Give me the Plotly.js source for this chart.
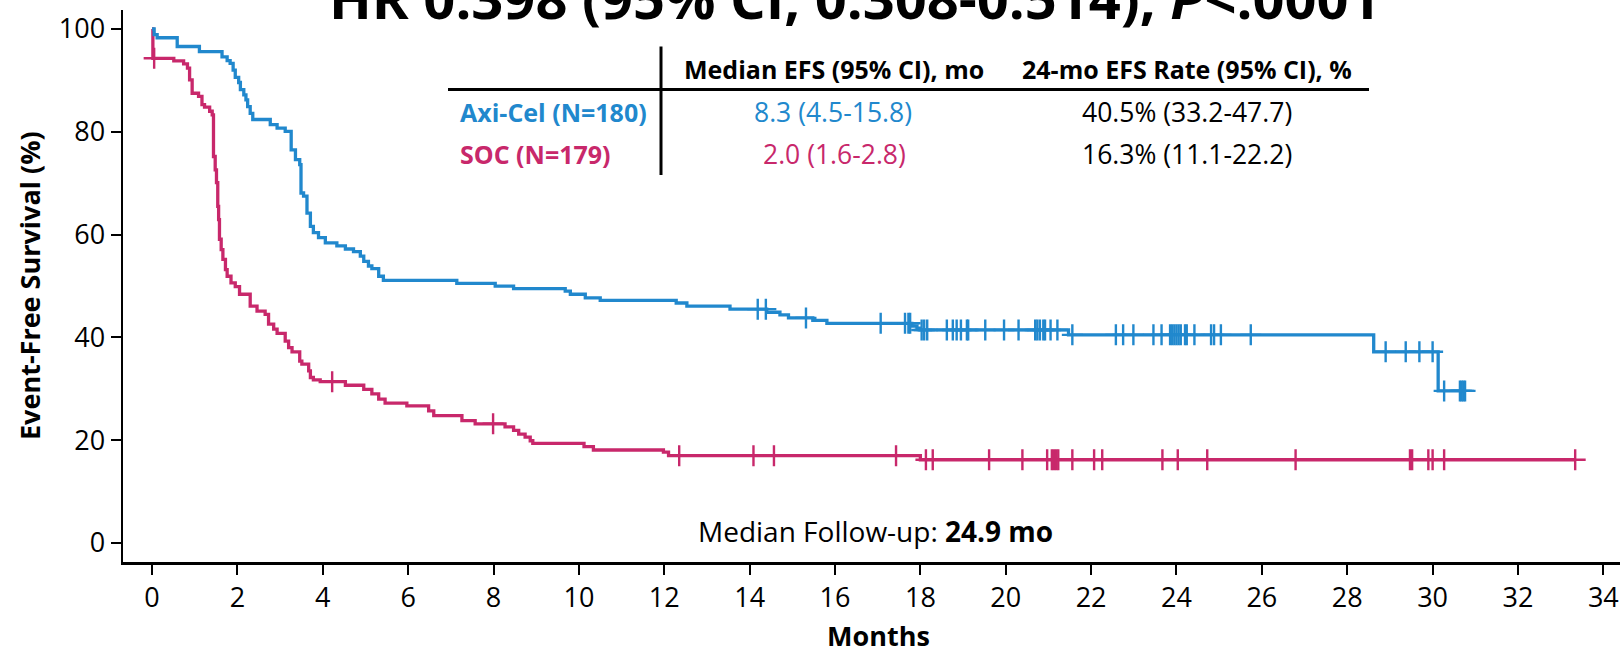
<!DOCTYPE html>
<html><head><meta charset="utf-8">
<script src="https://cdn.plot.ly/plotly-3.0.1.min.js"></script>
<style>html,body{margin:0;padding:0;background:#fff}#chart{width:1620px;height:647px}</style>
</head><body><div id="chart"></div>
<script>
// ---- Data ----
const axiTime = [0, 0.05, 0.12, 0.59, 1.11, 1.64, 1.76, 1.83, 1.90, 1.95, 2.03, 2.07, 2.15, 2.20, 2.24, 2.30, 2.36,
  2.77, 2.93, 3.12, 3.26, 3.36, 3.46, 3.49, 3.55, 3.63, 3.71, 3.78, 3.90, 4.06, 4.33, 4.53, 4.72, 4.88, 4.96,
  5.07, 5.15, 5.31, 5.42, 7.14, 8.04, 8.47, 9.68, 9.80, 10.15, 10.50, 12.28, 12.53, 13.54, 14.40, 14.71, 14.91,
  15.48, 15.81, 17.80, 17.92, 17.99, 21.47, 28.62, 30.13];
const axiSurv = [100, 98.9, 98.3, 96.6, 95.6, 94.6, 93.85, 93.3, 92.0, 90.6, 89.6, 88.2, 87.2, 86.2, 84.9, 83.6, 82.4,
  81.4, 80.7, 80.1, 76.5, 74.6, 73.6, 68.1, 67.5, 64.2, 61.6, 60.4, 59.4, 58.4, 57.8, 57.2, 56.7, 55.8, 54.8,
  53.9, 53.4, 51.9, 51.1, 50.5, 50.0, 49.5, 49.0, 48.4, 47.7, 47.2, 46.7, 46.1, 45.5, 44.9, 44.4, 43.8,
  43.3, 42.75, 42.2, 41.8, 41.45, 40.5, 37.2, 29.6];
const axiCensor = [14.19, 14.38, 15.32, 17.07, 17.64, 17.72, 17.76, 18.03, 18.09, 18.16, 18.62, 18.76, 18.85, 18.95,
  19.09, 19.12, 19.52, 19.96, 20.30, 20.69, 20.74, 20.80, 20.88, 20.92, 21.05, 21.21, 21.56, 22.58, 22.75, 22.99,
  23.46, 23.65, 23.85, 23.90, 23.95, 24.00, 24.05, 24.10, 24.20, 24.24, 24.42, 24.81, 24.88, 25.04, 25.74,
  28.90, 29.37, 29.69, 30.00, 30.27, 30.64, 30.68, 30.72, 30.76];

const socTime = [0, 0.02, 0.51, 0.74, 0.83, 0.88, 0.94, 1.09, 1.17, 1.23, 1.35, 1.41, 1.44, 1.48, 1.51, 1.54, 1.56,
  1.58, 1.62, 1.66, 1.72, 1.76, 1.85, 1.95, 2.05, 2.30, 2.46, 2.65, 2.73, 2.85, 2.93, 3.12, 3.20, 3.28, 3.46,
  3.51, 3.67, 3.71, 3.78, 3.94, 4.53, 4.96, 5.15, 5.31, 5.46, 5.97, 6.48, 6.60, 7.26, 7.57, 8.27, 8.47, 8.59,
  8.74, 8.86, 8.92, 10.12, 10.34, 11.98, 12.10, 18.00];
const socSurv = [100, 94.3, 93.8, 93.2, 92.4, 90.1, 87.5, 86.9, 85.3, 84.8, 84.0, 83.3, 75.2, 72.6, 70.1, 65.5, 62.9,
  59.1, 57.1, 55.2, 53.2, 51.9, 50.6, 49.9, 48.4, 46.1, 45.1, 44.5, 42.6, 41.6, 40.8, 39.3, 38.0, 37.2, 35.4,
  34.8, 33.5, 32.2, 31.75, 31.4, 30.7, 29.9, 29.0, 28.0, 27.2, 26.7, 25.7, 24.8, 23.8, 23.2, 22.6, 21.9, 21.2,
  20.6, 19.9, 19.4, 18.75, 18.1, 17.7, 17.0, 16.2];
const socCensor = [0.05, 4.22, 7.99, 12.35, 14.09, 14.57, 17.43, 18.13, 18.29, 19.61, 20.39, 20.97, 21.08, 21.13, 21.18,
  21.23, 21.56, 22.07, 22.26, 23.67, 24.03, 24.72, 26.79, 29.47, 29.52, 29.90, 30.00, 30.27, 33.34];

const xTicks = [0, 2, 4, 6, 8, 10, 12, 14, 16, 18, 20, 22, 24, 26, 28, 30, 32, 34];
const yTicks = [0, 20, 40, 60, 80, 100];

const armNames = ["Axi-Cel (N=180)", "SOC (N=179)"];
const medianEFS = ["8.3 (4.5-15.8)", "2.0 (1.6-2.8)"];
const rate24 = ["40.5% (33.2-47.7)", "16.3% (11.1-22.2)"];
const headers = ["Median EFS (95% CI), mo", "24-mo EFS Rate (95% CI), %"];
const titleText = "HR 0.398 (95% CI, 0.308-0.514), <i>P</i>&lt;.0001";
const followUp = "24.9 mo";

// ---- Styling ----
const BLUE = "#2188CD", RED = "#C8286B";
const FONT = "Open Sans, Noto Sans, sans-serif";

function survAt(times, surv, t) {
  let v = surv[0];
  for (let i = 0; i < times.length; i++) { if (times[i] <= t) v = surv[i]; else break; }
  return v;
}
function curve(times, surv, censor, color, name) {
  const end = Math.max(...censor);
  const x = times.concat([end]);
  const y = surv.concat([survAt(times, surv, end)]);
  return [
    {x: x, y: y, type: "scatter", mode: "lines", line: {shape: "hv", color: color, width: 3.3}, name: name, hoverinfo: "skip"},
    {x: censor, y: censor.map(t => survAt(times, surv, t)), type: "scatter", mode: "markers", name: name + " censored",
     marker: {symbol: "cross-thin-open", size: 15, color: color, line: {color: color, width: 2.4}}, hoverinfo: "skip"}
  ];
}

const L = 123, R = 1620, T = 10, B = 562, W = 1620, H = 647;
const px = v => (v - L) / (R - L);
const py = v => (B - v) / (B - T);

function ann(text, x, y, opts) {
  return Object.assign({text: text, x: px(x), y: py(y), xref: "paper", yref: "paper", showarrow: false,
    xanchor: "center", yanchor: "middle", font: {family: FONT, size: 25, color: "#000"}}, opts || {});
}

const annotations = [
  ann("<b>" + titleText + "</b>", 855, -3, {font: {family: FONT, size: 56, color: "#000"}}),
  ann("<b>" + headers[0] + "</b>", 834, 69),
  ann("<b>" + headers[1] + "</b>", 1187, 69),
  ann("<b>" + armNames[0] + "</b>", 458, 112, {xanchor: "left", font: {family: FONT, size: 25, color: BLUE}}),
  ann("<b>" + armNames[1] + "</b>", 458, 154, {xanchor: "left", font: {family: FONT, size: 25, color: RED}}),
  ann(medianEFS[0], 833, 112, {font: {family: FONT, size: 26.5, color: BLUE}}),
  ann(medianEFS[1], 834, 154, {font: {family: FONT, size: 26.5, color: RED}}),
  ann(rate24[0], 1187, 112, {font: {family: FONT, size: 26.5, color: "#000"}}),
  ann(rate24[1], 1187, 154, {font: {family: FONT, size: 26.5, color: "#000"}}),
  ann("Median Follow-up: <b>" + followUp + "</b>", 876, 531, {font: {family: FONT, size: 28, color: "#000"}}),
  ann("<b>Months</b>", 878, 635, {font: {family: FONT, size: 27, color: "#000"}}),
  ann("<b>Event-Free Survival (%)</b>", 29, 286, {textangle: -90, font: {family: FONT, size: 27, color: "#000"}})
];

const shapes = [
  {type: "line", xref: "paper", yref: "paper", x0: px(448), x1: px(1369), y0: py(89.5), y1: py(89.5), line: {color: "#000", width: 3}},
  {type: "line", xref: "paper", yref: "paper", x0: px(661), x1: px(661), y0: py(46.5), y1: py(175), line: {color: "#000", width: 3}}
];

const axisCommon = {showline: true, linecolor: "#000", linewidth: 2.5, ticks: "outside", ticklen: 10, tickwidth: 2,
  tickcolor: "#000", showgrid: false, zeroline: false, tickfont: {family: FONT, size: 27, color: "#000"}, fixedrange: true};

const layout = {
  width: W, height: H, paper_bgcolor: "#fff", plot_bgcolor: "#fff", showlegend: false,
  margin: {l: L, r: W - R, t: T, b: H - B, pad: 0},
  xaxis: Object.assign({}, axisCommon, {range: [-0.68, 34.39], tickvals: xTicks, ticktext: xTicks.map(String)}),
  yaxis: Object.assign({}, axisCommon, {range: [-3.69, 103.7], tickvals: yTicks, ticktext: yTicks.map(String)}),
  annotations: annotations, shapes: shapes
};

const traces = [].concat(curve(socTime, socSurv, socCensor, RED, "SOC"), curve(axiTime, axiSurv, axiCensor, BLUE, "Axi-Cel"));
Plotly.newPlot("chart", traces, layout, {displayModeBar: false, staticPlot: true});
</script></body></html>
